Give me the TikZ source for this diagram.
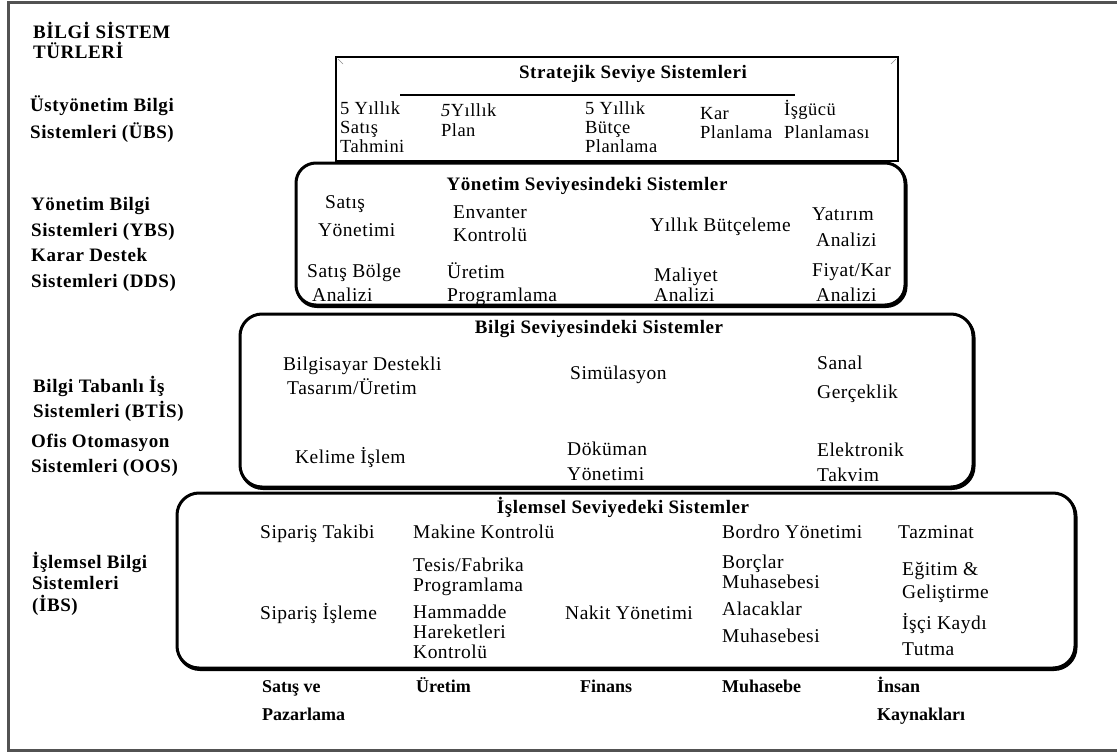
\documentclass[tikz,border=0pt]{standalone}
\usepackage{fontspec}
\setmainfont{Liberation Serif}
\newfontfamily\itemfont[LetterSpace=2.5]{Liberation Serif}
\newfontfamily\labfont[LetterSpace=3]{Liberation Serif}
\begin{document}
\begin{tikzpicture}[x=1pt,y=-1pt,
  txt/.style={anchor=base west, inner sep=0pt, font=\itemfont\fontsize{19.5}{21}\selectfont},
  stxt/.style={txt, font=\itemfont\fontsize{18.5}{20}\selectfont},
  lab/.style={anchor=base west, inner sep=0pt, font=\labfont\bfseries\fontsize{19}{21}\selectfont},
  foot/.style={anchor=base west, inner sep=0pt, font=\rmfamily\bfseries\fontsize{18}{20}\selectfont},
  ttl/.style={anchor=base, inner sep=0pt, font=\labfont\bfseries\fontsize{19}{21}\selectfont},
  level/.style={draw=black, fill=white, line width=3pt, rounded corners=22pt},
  shadow/.style={draw=black, line width=3pt, rounded corners=22pt, xshift=1pt, yshift=-1.5pt},
  frame/.style={draw=black!68, line width=3pt}]
\useasboundingbox (0,0) rectangle (1117,752);

% outer frame (open on the right)
\draw[frame] (1117,2.5) -- (8.5,2.5) -- (8.5,750.5) -- (1117,750.5);

% ---- pyramid levels ----
\draw[draw=black, fill=white, line width=2.6pt] (336,57) rectangle (898,161);
\draw[black!45, line width=0.6pt] (338,59) -- (343,64) (896,59) -- (891,64);
\draw[shadow, rounded corners=20pt] (296,163) rectangle (905,305);
\draw[level, rounded corners=20pt] (296,163) rectangle (905,305);
\draw[shadow] (240,314) rectangle (973,487);
\draw[level] (240,314) rectangle (973,487);
\draw[shadow] (177,493) rectangle (1075,668);
\draw[level] (177,493) rectangle (1075,668);

% ---- left column ----
\node[lab] (h1) at (33,39) {BİLGİ SİSTEM};
\node[lab] (h2) at (33,59) {TÜRLERİ};
\node[lab] (ubs1) at (30,111) {Üstyönetim Bilgi};
\node[lab] (ubs2) at (30,139) {Sistemleri (ÜBS)};
\node[lab] (ybs1) at (31,210) {Yönetim Bilgi};
\node[lab] (ybs2) at (31,236) {Sistemleri (YBS)};
\node[lab] (dds1) at (31,261) {Karar Destek};
\node[lab] (dds2) at (31,287) {Sistemleri (DDS)};
\node[lab] (btis1) at (33,392) {Bilgi Tabanlı İş};
\node[lab] (btis2) at (33,417) {Sistemleri (BTİS)};
\node[lab] (oos1) at (31,447) {Ofis Otomasyon};
\node[lab] (oos2) at (31,472) {Sistemleri (OOS)};
\node[lab] (ibs1) at (32,568) {İşlemsel Bilgi};
\node[lab] (ibs2) at (32,589) {Sistemleri};
\node[lab] (ibs3) at (32,611) {(İBS)};

% ---- strategic level ----
\node[ttl] (t1) at (633,79) {Stratejik Seviye Sistemleri};
\draw[line width=1.5pt] (400,95) -- (795,95);
\node[stxt] (a1) at (340,114) {5 Yıllık};
\node[stxt] (a2) at (340,133) {Satış};
\node[stxt] (a3) at (340,152) {Tahmini};
\node[stxt] (b1) at (441,117) {\textit{5}Yıllık};
\node[stxt] (b2) at (441,136) {Plan};
\node[stxt] (c1) at (585,114) {5 Yıllık};
\node[stxt] (c2) at (585,133) {Bütçe};
\node[stxt] (c3) at (585,152) {Planlama};
\node[stxt] (d1) at (700,119) {Kar};
\node[stxt] (d2) at (700,138) {Planlama};
\node[stxt] (e1) at (784,115) {İşgücü};
\node[stxt] (e2) at (784,138) {Planlaması};

% ---- management level ----
\node[ttl] (t2) at (587,190) {Yönetim Seviyesindeki Sistemler};
\node[txt] (f1) at (325,208) {Satış};
\node[txt] (f2) at (318,236) {Yönetimi};
\node[txt] (g1) at (453,218) {Envanter};
\node[txt] (g2) at (453,241) {Kontrolü};
\node[txt] (h3) at (650,231) {Yıllık Bütçeleme};
\node[txt] (i1) at (812,220) {Yatırım};
\node[txt] (i2) at (816,246) {Analizi};
\node[txt] (j1) at (307,277) {Satış Bölge};
\node[txt] (j2) at (312,301) {Analizi};
\node[txt] (k1) at (447,278) {Üretim};
\node[txt] (k2) at (447,301) {Programlama};
\node[txt] (l1) at (654,281) {Maliyet};
\node[txt] (l2) at (654,301) {Analizi};
\node[txt] (m1) at (812,276) {Fiyat/Kar};
\node[txt] (m2) at (816,301) {Analizi};

% ---- knowledge level ----
\node[ttl] (t3) at (599,333) {Bilgi Seviyesindeki Sistemler};
\node[txt] (n1) at (283,370) {Bilgisayar Destekli};
\node[txt] (n2) at (287,394) {Tasarım/Üretim};
\node[txt] (o1) at (570,379) {Simülasyon};
\node[txt] (p1) at (817,369) {Sanal};
\node[txt] (p2) at (817,398) {Gerçeklik};
\node[txt] (q1) at (295,463) {Kelime İşlem};
\node[txt] (r1) at (567,455) {Döküman};
\node[txt] (r2) at (567,480) {Yönetimi};
\node[txt] (s1) at (817,456) {Elektronik};
\node[txt] (s2) at (817,481) {Takvim};

% ---- operational level ----
\node[ttl] (t4) at (623,513) {İşlemsel Seviyedeki Sistemler};
\node[txt] (u1) at (260,538) {Sipariş Takibi};
\node[txt] (v1) at (413,538) {Makine Kontrolü};
\node[txt] (v2) at (413,571) {Tesis/Fabrika};
\node[txt] (v3) at (413,591) {Programlama};
\node[txt] (u2) at (260,619) {Sipariş İşleme};
\node[txt] (w1) at (413,618) {Hammadde};
\node[txt] (w2) at (413,638) {Hareketleri};
\node[txt] (w3) at (413,658) {Kontrolü};
\node[txt] (x1) at (565,619) {Nakit Yönetimi};
\node[txt] (y1) at (722,538) {Bordro Yönetimi};
\node[txt] (y2) at (722,568) {Borçlar};
\node[txt] (y3) at (722,588) {Muhasebesi};
\node[txt] (y4) at (722,615) {Alacaklar};
\node[txt] (y5) at (722,642) {Muhasebesi};
\node[txt] (z1) at (898,538) {Tazminat};
\node[txt] (z2) at (902,575) {Eğitim \&};
\node[txt] (z3) at (902,598) {Geliştirme};
\node[txt] (z4) at (902,629) {İşçi Kaydı};
\node[txt] (z5) at (902,655) {Tutma};

% ---- functional areas ----
\node[foot] (fa1) at (262,692) {Satış ve};
\node[foot] (fa2) at (262,720) {Pazarlama};
\node[foot] (fb) at (416,692) {Üretim};
\node[foot] (fc) at (580,692) {Finans};
\node[foot] (fd) at (722,692) {Muhasebe};
\node[foot] (fe1) at (877,692) {İnsan};
\node[foot] (fe2) at (877,720) {Kaynakları};
\end{tikzpicture}
\end{document}
